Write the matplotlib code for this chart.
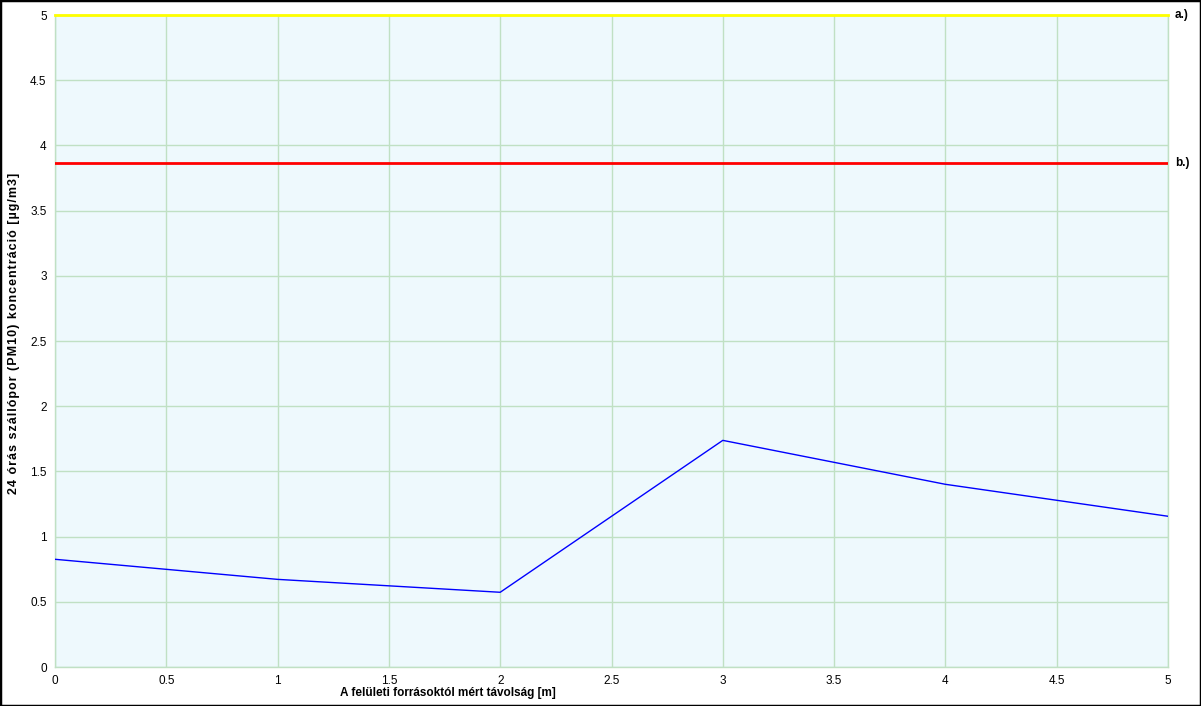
import numpy as np
import matplotlib.pyplot as plt
from matplotlib.patches import Rectangle

# adatok
tavolsag = [0, 1, 2, 3, 4, 5]
koncentracio = [0.826, 0.672, 0.573, 1.738, 1.401, 1.156]
hatar_a = 5.0
hatar_b = 3.865
x_ticks = [0, 0.5, 1, 1.5, 2, 2.5, 3, 3.5, 4, 4.5, 5]
y_ticks = [0, 0.5, 1, 1.5, 2, 2.5, 3, 3.5, 4, 4.5, 5]
x_cim = 'A felületi forrásoktól mért távolság [m]'
y_cim = '24 órás szállópor (PM10) koncentráció [µg/m3]'

plt.rcParams['font.family'] = ['Liberation Sans', 'DejaVu Sans']

W, H = 1201, 706
fig = plt.figure(figsize=(W / 100, H / 100), dpi=100)
ax = fig.add_axes([55 / W, (H - 667) / H, (1168 - 55) / W, (667 - 15) / H])
ax.set_facecolor('#eef9fd')

grid_c = '#c0e0c4'
ax.plot(tavolsag, koncentracio, color='#0000ff', lw=1, zorder=3)
ax.axhline(hatar_a, color='#ffff00', lw=2, zorder=4, clip_on=False)
ax.axhline(hatar_b, color='#ff0000', lw=2, zorder=4)

ax.set_xlim(0, 5)
ax.set_ylim(0, 5)
ax.set_xticks(x_ticks)
ax.set_yticks(y_ticks)
ax.set_xticklabels([f'{v:g}' for v in x_ticks])
ax.set_yticklabels([f'{v:g}' for v in y_ticks])
ax.tick_params(length=0, labelsize=8.5, pad=6)
ax.grid(color=grid_c, lw=1)
for s in ax.spines.values():
    s.set_color(grid_c)
    s.set_linewidth(1)

ax.text(1.006, hatar_a, 'a.)', transform=ax.get_yaxis_transform(), va='center',
        ha='left', fontsize=8.5, fontweight='bold')
ax.text(1.006, hatar_b, 'b.)', transform=ax.get_yaxis_transform(), va='center',
        ha='left', fontsize=8.5, fontweight='bold')

fig.text(448 / W, 1 - 693 / H, x_cim,
         ha='center', va='center', fontsize=8.5, fontweight='bold')
# a függőleges felirat ritkított betűközzel
fig.text(14 / W, 1 - 333 / H, '\u200a'.join(y_cim),
         ha='center', va='center', rotation=90, fontsize=9, fontweight='bold')

fig.patches.append(Rectangle((0, 0), 1, 1, transform=fig.transFigure, fill=False,
                             edgecolor='black', lw=2.5))

fig.savefig('out.png', dpi=100)
